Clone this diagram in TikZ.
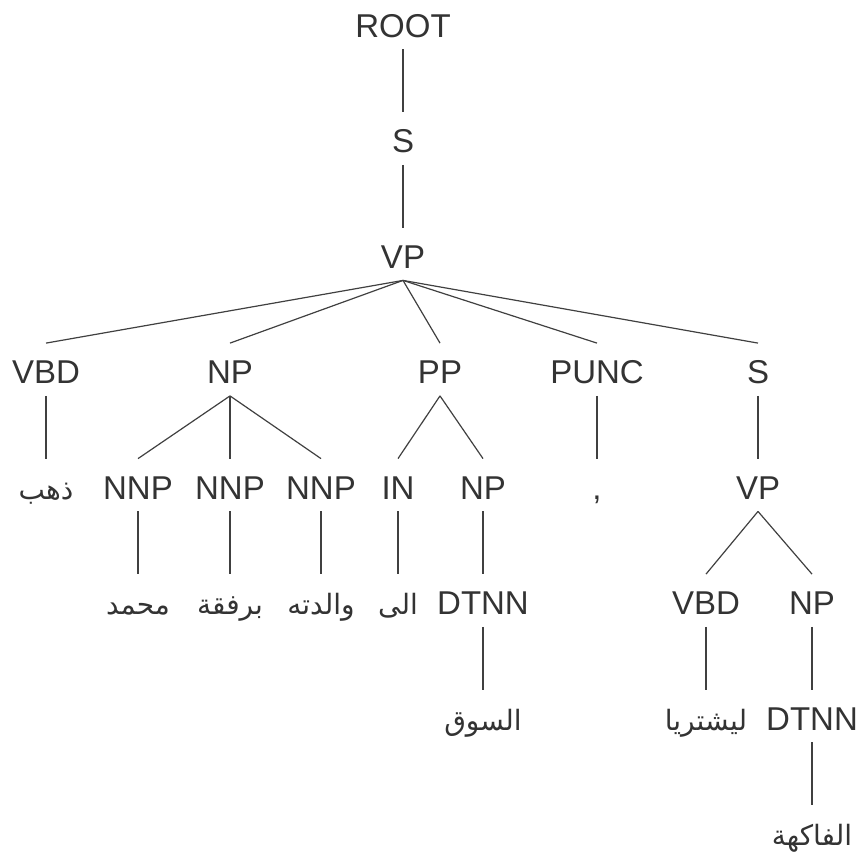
\documentclass[tikz,border=0pt]{standalone}
\usepackage{fontspec}
\setmainfont{Liberation Sans}
\newfontfamily\arabicfont[Script=Arabic]{DejaVu Sans}
\TeXXeTstate=1
\newcommand{\arword}[1]{{\arabicfont\fontsize{14}{16}\selectfont\beginR #1\endR}}

\begin{document}
\begin{tikzpicture}[x=0.5pt,y=-0.5pt,
  tag/.style={anchor=base,inner xsep=0pt,inner ysep=6pt,text height=14pt,text depth=0pt,
    text=black!80,font=\fontsize{16.5}{20}\selectfont},
  branch/.style={draw=black!75,line width=0.6pt}]
\useasboundingbox (0,0) rectangle (860,852);
\node[tag] (root) at (403,37) {ROOT};
\node[tag] (s) at (403,152.5) {S};
\node[tag] (vp) at (403,268) {VP};
\node[tag] (vbd) at (46,383.5) {VBD};
\node[tag] (np) at (230,383.5) {NP};
\node[tag] (pp) at (440,383.5) {PP};
\node[tag] (punc) at (597,383.5) {PUNC};
\node[tag] (s2) at (758,383.5) {S};
\node[tag] (w1) at (46,499) {\arword{ذهب}};
\node[tag] (nnp1) at (138,499) {NNP};
\node[tag] (nnp2) at (230,499) {NNP};
\node[tag] (nnp3) at (321,499) {NNP};
\node[tag] (in) at (398,499) {IN};
\node[tag] (np2) at (483,499) {NP};
\node[tag] (comma) at (597,499) {,};
\node[tag] (vp2) at (758,499) {VP};
\node[tag] (w2) at (138,614.5) {\arword{محمد}};
\node[tag] (w3) at (230,614.5) {\arword{برفقة}};
\node[tag] (w4) at (321,614.5) {\arword{والدته}};
\node[tag] (w5) at (398,614.5) {\arword{الى}};
\node[tag] (dtnn) at (483,614.5) {DTNN};
\node[tag] (vbd2) at (706,614.5) {VBD};
\node[tag] (np3) at (812,614.5) {NP};
\node[tag] (w6) at (483,730) {\arword{السوق}};
\node[tag] (w7) at (706,730) {\arword{ليشتريا}};
\node[tag] (dtnn2) at (812,730) {DTNN};
\node[tag] (w8) at (812,845.5) {\arword{الفاكهة}};
\draw[branch] (root.south) -- (s.north);
\draw[branch] (s.south) -- (vp.north);
\draw[branch] (vp.south) -- (vbd.north);
\draw[branch] (vp.south) -- (np.north);
\draw[branch] (vp.south) -- (pp.north);
\draw[branch] (vp.south) -- (punc.north);
\draw[branch] (vp.south) -- (s2.north);
\draw[branch] (vbd.south) -- (w1.north);
\draw[branch] (np.south) -- (nnp1.north);
\draw[branch] (np.south) -- (nnp2.north);
\draw[branch] (np.south) -- (nnp3.north);
\draw[branch] (pp.south) -- (in.north);
\draw[branch] (pp.south) -- (np2.north);
\draw[branch] (punc.south) -- (comma.north);
\draw[branch] (s2.south) -- (vp2.north);
\draw[branch] (nnp1.south) -- (w2.north);
\draw[branch] (nnp2.south) -- (w3.north);
\draw[branch] (nnp3.south) -- (w4.north);
\draw[branch] (in.south) -- (w5.north);
\draw[branch] (np2.south) -- (dtnn.north);
\draw[branch] (vp2.south) -- (vbd2.north);
\draw[branch] (vp2.south) -- (np3.north);
\draw[branch] (dtnn.south) -- (w6.north);
\draw[branch] (vbd2.south) -- (w7.north);
\draw[branch] (np3.south) -- (dtnn2.north);
\draw[branch] (dtnn2.south) -- (w8.north);
\end{tikzpicture}
\end{document}
